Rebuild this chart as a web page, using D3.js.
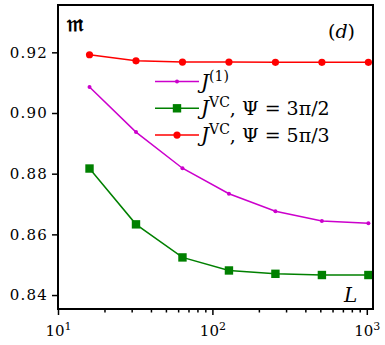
<!DOCTYPE html>
<html>
<head>
<meta charset="utf-8">
<script src="https://cdn.jsdelivr.net/npm/d3@7"></script>
<style>
  body { margin: 0; background: #fff; }
  svg text { font-family: "DejaVu Serif", "Liberation Serif", serif; }
</style>
</head>
<body>
<svg id="chart" width="385" height="345"></svg>
<script>
const sizes = [16, 32, 64, 128, 256, 512, 1024];
const jOne = [0.9086, 0.8937, 0.8818, 0.8734, 0.8676, 0.8644, 0.8637];
const jVc3 = [0.8817, 0.8633, 0.8524, 0.8481, 0.8470, 0.8466, 0.8466];
const jVc5 = [0.9192, 0.9172, 0.9168, 0.9168, 0.9167, 0.9167, 0.9167];
const yTicks = [0.84, 0.86, 0.88, 0.90, 0.92];
const xTicks = [10, 100, 1000];

const margin = {left: 58, right: 12, top: 5, bottom: 36};
const width = 385, height = 345;

const svg = d3.select('#chart');
const x = d3.scaleLog().domain([10, 1097]).range([margin.left, width - margin.right]);
const y = d3.scaleLinear().domain([0.8354, 0.9356]).range([height - margin.bottom, margin.top]);

// minor ticks on the log axis
const minor = [];
for (let d = 10; d < 1000; d *= 10) {
    for (let k = 2; k <= 9; k++) minor.push(d * k);
}

const xAxis = svg.append('g')
    .attr('transform', `translate(0,${height - margin.bottom})`)
    .call(d3.axisBottom(x).tickValues(xTicks).tickSize(6).tickFormat(''));
svg.append('g')
    .attr('transform', `translate(0,${height - margin.bottom})`)
    .call(d3.axisBottom(x).tickValues(minor).tickSize(3.5).tickFormat(''))
    .call(g => g.select('.domain').remove());

xAxis.selectAll('.tick').each(function(d) {
    const t = d3.select(this).append('text')
        .attr('y', 27)
        .attr('fill', '#000')
        .attr('font-size', 15)
        .attr('text-anchor', 'middle');
    t.append('tspan').text('10');
    t.append('tspan').attr('dy', -6).attr('font-size', 11).text(Math.round(Math.log10(d)));
});

svg.append('g')
    .attr('transform', `translate(${margin.left},0)`)
    .call(d3.axisLeft(y).tickValues(yTicks).tickSize(6).tickPadding(4).tickFormat(d3.format('.2f')))
    .call(g => g.selectAll('text').attr('font-size', 15).attr('letter-spacing', 1.2).attr('fill', '#000'));

svg.selectAll('.domain').remove();
svg.selectAll('.tick line').attr('stroke', '#000').attr('stroke-width', 1.5);

const series = [
    {values: jOne, color: '#cc00cc', marker: 'dot', r: 2},
    {values: jVc3, color: '#008000', marker: 'square', r: 4.2},
    {values: jVc5, color: '#ff0000', marker: 'dot', r: 3.6}
];

const line = d3.line().x(d => x(d[0])).y(d => y(d[1]));

function drawMarker(g, s, px, py) {
    if (s.marker === 'square') {
        g.append('rect')
            .attr('x', px - s.r).attr('y', py - s.r)
            .attr('width', s.r * 2).attr('height', s.r * 2)
            .attr('fill', s.color);
    } else {
        g.append('circle').attr('cx', px).attr('cy', py).attr('r', s.r).attr('fill', s.color);
    }
}

series.forEach(s => {
    const pts = sizes.map((L, i) => [L, s.values[i]]);
    svg.append('path')
        .attr('d', line(pts))
        .attr('fill', 'none')
        .attr('stroke', s.color)
        .attr('stroke-width', 1.5);
    const g = svg.append('g');
    pts.forEach(p => drawMarker(g, s, x(p[0]), y(p[1])));
});

// frame
svg.append('rect')
    .attr('x', margin.left).attr('y', margin.top)
    .attr('width', width - margin.left - margin.right)
    .attr('height', height - margin.top - margin.bottom)
    .attr('fill', 'none')
    .attr('stroke', '#000')
    .attr('stroke-width', 2);

// legend
const legend = [
    {s: series[0], parts: [['J', 0], ['(1)', -8, 14]]},
    {s: series[1], parts: [['J', 0], ['VC', -8, 14], [', Ψ = 3π/2', 8]]},
    {s: series[2], parts: [['J', 0], ['VC', -8, 14], [', Ψ = 5π/3', 8]]}
];
legend.forEach((item, i) => {
    const ly = 81.5 + i * 26.8;
    svg.append('line')
        .attr('x1', 155).attr('x2', 199)
        .attr('y1', ly).attr('y2', ly)
        .attr('stroke', item.s.color).attr('stroke-width', 1.5);
    drawMarker(svg, item.s, 177, ly);
    const t = svg.append('text')
        .attr('x', 201).attr('y', ly + 7)
        .attr('font-size', 19);
    item.parts.forEach((p, j) => {
        const ts = t.append('tspan').text(p[0]).attr('dy', p[1]);
        if (p[2]) ts.attr('font-size', p[2]);
        if (j === 0) ts.attr('font-style', 'italic').attr('font-size', 20);
    });
});

svg.append('text')
    .attr('x', 67).attr('y', 31)
    .attr('font-size', 22)
    .attr('font-weight', 'bold')
    .text('𝔪');
svg.append('text')
    .attr('x', 328).attr('y', 38)
    .attr('font-size', 19)
    .text('(')
    .append('tspan').attr('font-style', 'italic').text('d')
    .select(function() { return this.parentNode; })
    .append('tspan').text(')');
svg.append('text')
    .attr('x', 344).attr('y', 302)
    .attr('font-size', 20)
    .attr('font-style', 'italic')
    .text('L');
</script>
</body>
</html>
